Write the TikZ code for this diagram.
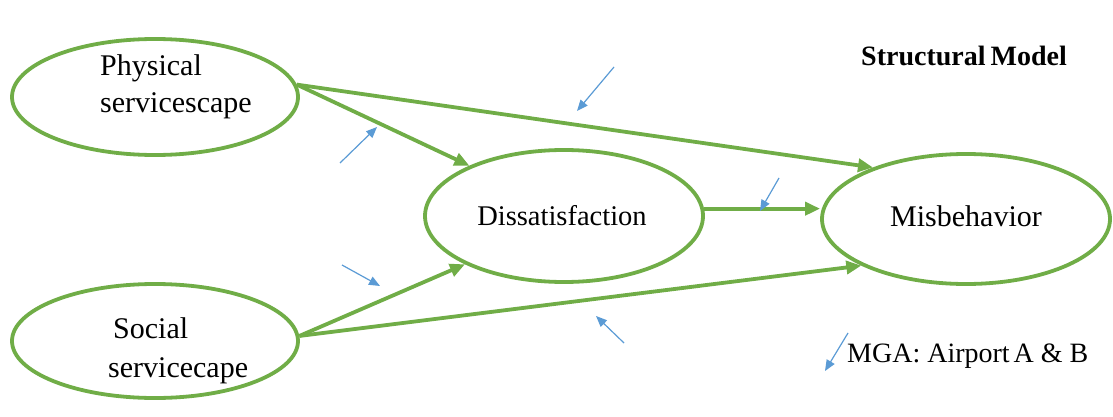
\documentclass[tikz,border=0pt]{standalone}
\usepackage{fontspec}
\setmainfont{Liberation Serif}
\usetikzlibrary{arrows.meta,shapes.geometric}
\definecolor{og}{HTML}{70AD47}
\definecolor{ob}{HTML}{5B9BD5}
\begin{document}
\begin{tikzpicture}[x=1pt,y=-1pt,
  oval/.style={draw=og,line width=3.8pt,ellipse,inner sep=0pt},
  lbl/.style={inner sep=0pt,anchor=base west,font=\fontsize{30}{36}\selectfont},
  conn/.style={draw=og,line width=3.8pt,-{Triangle[length=15pt,width=13pt]}},
  err/.style={draw=ob,line width=1.2pt,-{Triangle[length=11pt,width=9pt]}}]
\useasboundingbox (0,0) rectangle (1113,417);
\node[oval,minimum width=286pt,minimum height=116pt] (phys) at (155,97) {};
\node[oval,minimum width=286pt,minimum height=114pt] (soc) at (155,341) {};
\node[oval,minimum width=278pt,minimum height=132pt] (dis) at (564,216) {};
\node[oval,minimum width=288pt,minimum height=130pt] (mis) at (966,219) {};
\node[lbl] (t1) at (100,76) {Physical};
\node[lbl] (t2) at (100,113) {servicescape};
\node[lbl] (t3) at (113,338) {Social};
\node[lbl] (t4) at (108,377) {servicecape};
\node[inner sep=0pt,font=\fontsize{28.5}{34}\selectfont] (t5) at (562,216) {Dissatisfaction};
\node[inner sep=0pt,font=\fontsize{30}{36}\selectfont] (t6) at (966,216) {Misbehavior};
\node[inner sep=0pt,anchor=base west,font=\fontsize{28}{33}\bfseries] (t7) at (861,66) {Structural\hspace{-2pt} Model};
\node[inner sep=0pt,anchor=base west,font=\fontsize{28}{33}\selectfont] (t8) at (847,362) {MGA: Airport\hspace{-3pt} A \& B};
\draw[conn] (phys.5) -- (dis.152);
\draw[conn] (phys.5) -- (mis.151);
\draw[conn] (soc.2) -- (dis.206);
\draw[conn] (soc.2) -- (mis.204);
\draw[conn] (dis.3) -- (mis.west |- dis.3);
\coordinate (a1) at (614,67); \coordinate (b1) at (577,111);
\coordinate (a2) at (340,163); \coordinate (b2) at (377,127);
\coordinate (a3) at (342,265); \coordinate (b3) at (380,286);
\coordinate (a4) at (624,343); \coordinate (b4) at (596,316);
\coordinate (a5) at (779,178); \coordinate (b5) at (760,211);
\coordinate (a6) at (848,333); \coordinate (b6) at (825,371);
\foreach \i in {1,...,6} \draw[err] (a\i) -- (b\i);
\end{tikzpicture}
\end{document}
